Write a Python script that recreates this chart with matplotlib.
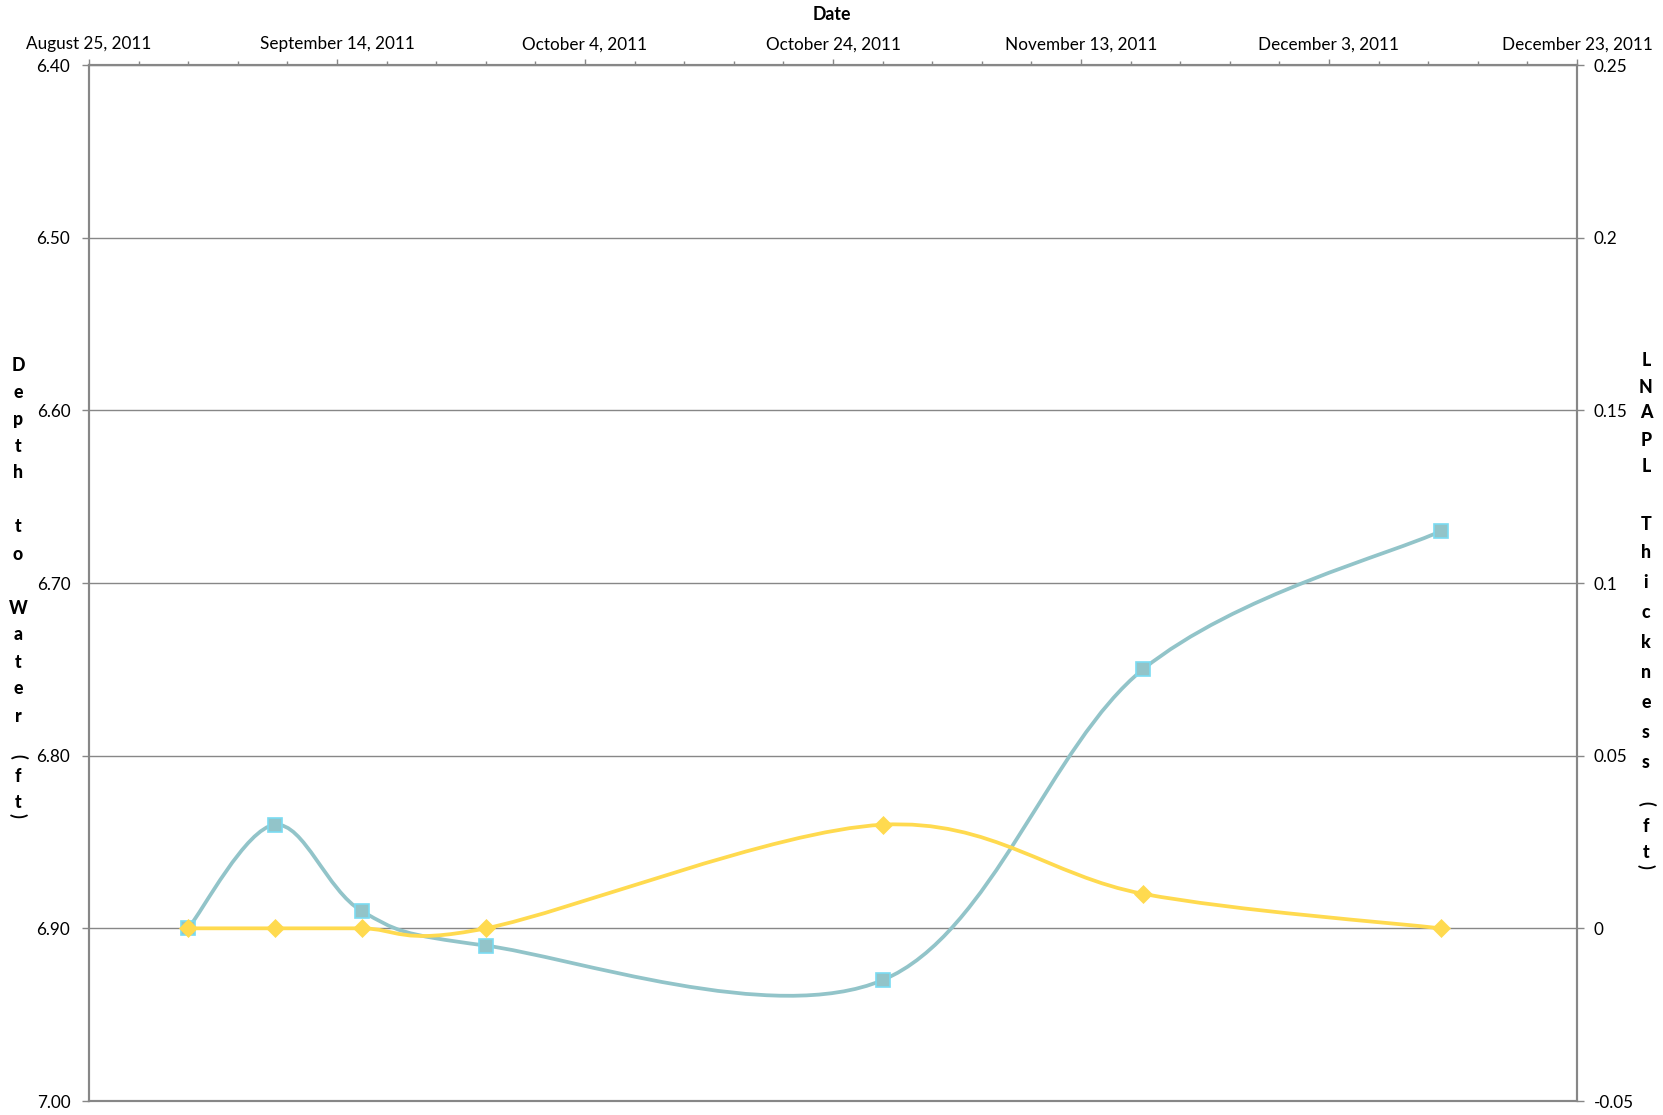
import numpy as np
import pandas as pd
import matplotlib
matplotlib.use('Agg')
import matplotlib.pyplot as plt
import matplotlib.dates as mdates
from matplotlib.path import Path
from matplotlib.patches import PathPatch
from matplotlib.ticker import FuncFormatter

plt.rcParams['font.family'] = ['Lato', 'DejaVu Sans']

# --- data ---
sample_dates = ['2011-09-02', '2011-09-09', '2011-09-16', '2011-09-26',
                '2011-10-28', '2011-11-18', '2011-12-12']
depth_to_water = [6.90, 6.84, 6.89, 6.91, 6.93, 6.75, 6.67]
lnapl_thickness = [0.0, 0.0, 0.0, 0.0, 0.03, 0.01, 0.0]

depth_ticks = [6.40, 6.50, 6.60, 6.70, 6.80, 6.90, 7.00]
lnapl_ticks = [-0.05, 0, 0.05, 0.1, 0.15, 0.2, 0.25]
date_start, date_end = '2011-08-25', '2011-12-23'

W, H = 1663, 1115
BLUE = '#92c4c9'
BLUE_EDGE = '#7adcf2'
YELLOW = '#ffda4f'
GREY = '#878787'


def smooth_path(x, y):
    # Excel style smoothed line: cubic bezier through every point
    x = np.asarray(x, float)
    y = np.asarray(y, float)
    px = np.concatenate([[x[0]], x, [x[-1]]])
    py = np.concatenate([[y[0]], y, [y[-1]]])
    verts = [(x[0], y[0])]
    codes = [Path.MOVETO]
    for i in range(len(x) - 1):
        c1 = (px[i + 1] + (px[i + 2] - px[i]) / 6, py[i + 1] + (py[i + 2] - py[i]) / 6)
        c2 = (px[i + 2] - (px[i + 3] - px[i + 1]) / 6, py[i + 2] - (py[i + 3] - py[i + 1]) / 6)
        verts += [c1, c2, (x[i + 1], y[i + 1])]
        codes += [Path.CURVE4] * 3
    return Path(verts, codes)


xd = mdates.date2num(pd.to_datetime(sample_dates))

fig = plt.figure(figsize=(W / 100, H / 100), dpi=100)
ax = fig.add_axes([89 / W, 14 / H, 1488 / W, 1036 / H])
ax2 = ax.twinx()

# left axis: depth to water (inverted)
ax.set_ylim(7.00, 6.40)
ax.set_yticks(depth_ticks)
ax.yaxis.set_major_formatter(FuncFormatter(lambda v, p: f'{v:.2f}'))
ax.yaxis.grid(True, color=GREY, lw=1.0)
ax.set_axisbelow(True)

# top date axis
ax.set_xlim(mdates.date2num(pd.Timestamp(date_start)), mdates.date2num(pd.Timestamp(date_end)))
major = pd.date_range(date_start, date_end, freq='20D')
minor = pd.date_range(date_start, date_end, freq='4D')
ax.set_xticks(mdates.date2num(major))
ax.set_xticks(mdates.date2num(minor), minor=True)
ax.set_xticklabels([f'{d:%B} {d.day}, {d.year}' for d in major])
ax.xaxis.tick_top()
ax.tick_params(axis='x', which='major', length=4.5, width=1, color=GREY, pad=4.5,
               labelsize=12.3, labelcolor='black')
ax.tick_params(axis='x', which='minor', length=3, width=1, color=GREY)
ax.tick_params(axis='y', length=5, width=1, color=GREY, pad=8.5, labelsize=12.3)

# right axis: LNAPL thickness
ax2.set_ylim(-0.05, 0.25)
ax2.set_yticks(lnapl_ticks)
ax2.yaxis.set_major_formatter(FuncFormatter(lambda v, p: f'{v:g}'))
ax2.tick_params(axis='y', length=5, width=1, color=GREY, pad=7, labelsize=12.3)

for a in (ax, ax2):
    for s in a.spines.values():
        s.set_color(GREY)
        s.set_linewidth(1.5)

# series
ax.add_patch(PathPatch(smooth_path(xd, depth_to_water), fill=False,
                       edgecolor=BLUE, lw=2.7, capstyle='round', zorder=2))
ax.plot(xd, depth_to_water, linestyle='none', marker='s', ms=9.5,
        mfc=BLUE, mec=BLUE_EDGE, mew=1.2, zorder=3)

ax2.add_patch(PathPatch(smooth_path(xd, lnapl_thickness), fill=False,
                        edgecolor=YELLOW, lw=2.7, capstyle='round', zorder=2))
ax2.plot(xd, lnapl_thickness, linestyle='none', marker='D', ms=9,
         mfc=YELLOW, mec=YELLOW, mew=0.5, zorder=3)

# titles
fig.text(832 / W, 1 - 14 / H, 'Date', ha='center', va='center',
         fontsize=12.8, fontweight='bold')


def stacked(x, text, ys):
    chars = [c for c in text if c != ' ']
    for c, y in zip(chars, ys):
        fig.text(x / W, 1 - y / H, c, ha='center', va='center', fontsize=12.8,
                 fontweight='black' if c not in '()' else 'bold',
                 rotation=-90 if c in '()' else 0)


stacked(18, 'Depth to Water (ft)',
        [366, 393, 420, 446, 473, 527, 554, 608, 635, 662, 689, 716, 756, 777, 802, 815])
stacked(1646, 'LNAPL Thickness (ft)',
        [360, 387, 413, 440, 466, 525, 553, 582, 613, 643, 672, 702, 733, 763, 803, 826, 852, 866])

fig.savefig('out.png', dpi=100)
